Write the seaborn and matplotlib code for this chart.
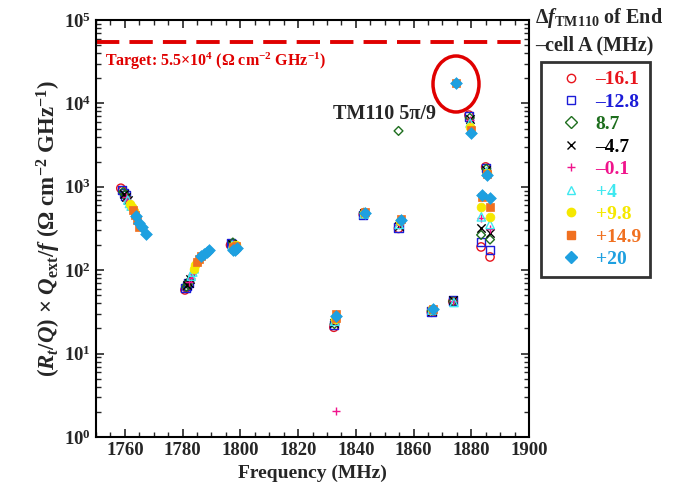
import numpy as np
import pandas as pd
import seaborn as sns
import matplotlib.pyplot as plt
from matplotlib.lines import Line2D
from matplotlib.patches import Ellipse
from matplotlib.ticker import MultipleLocator, LogLocator, NullFormatter

# legend labels (end-cell A frequency shift, MHz)
shifts = ['\u201316.1', '\u201312.8', '8.7', '\u20134.7', '\u20130.1', '+4', '+9.8', '+14.9', '+20']

# frequency (MHz) and (R/Q)*Qext/f values, one pair of lists per series
f_m161 = [1758.6, 1759.2, 1780.8, 1781.2, 1796.6, 1832.4, 1842.6, 1854.8, 1866.2, 1873.6, 1879.2, 1883.4, 1885.0, 1886.5]
v_m161 = [961, 898, 58, 62, 200, 20.7, 466, 317, 31.3, 42.3, 7240, 190, 1730, 144]

f_m128 = [1758.9, 1759.6, 1760.2, 1781.0, 1781.5, 1782.0, 1796.8, 1797.2, 1832.5, 1842.6, 1854.8, 1866.2, 1873.6, 1879.3, 1883.4, 1885.0, 1886.5]
v_m128 = [922, 844, 787, 61, 65, 70, 211, 204, 22, 458, 324, 32, 43.5, 6980, 218, 1690, 175]

f_p87 = [1759.4, 1760.0, 1760.6, 1781.3, 1781.8, 1782.3, 1797.4, 1832.6, 1842.8, 1854.8, 1866.3, 1873.7, 1879.5, 1883.4, 1885.2, 1886.5]
v_p87 = [867, 804, 743, 63, 68, 74, 215, 22.6, 489, 4677, 32.6, 42.3, 6710, 265, 1645, 233]

f_m47 = [1759.8, 1760.4, 1761.0, 1781.6, 1782.1, 1782.7, 1797.0, 1832.6, 1842.8, 1854.9, 1866.3, 1873.8, 1879.6, 1883.4, 1885.2, 1886.5]
v_m47 = [819, 757, 695, 66, 71, 78, 207, 23.2, 481, 338, 32.6, 43.5, 6530, 320, 1605, 283]

f_m01 = [1760.3, 1760.9, 1761.5, 1782.2, 1782.8, 1783.3, 1797.3, 1832.7, 1833.2, 1842.9, 1855.0, 1866.4, 1873.8, 1879.5, 1883.5, 1885.3, 1886.5]
v_m01 = [764, 703, 649, 72, 81, 89, 204, 23.9, 2.05, 477, 346, 33.3, 42.3, 6360, 421, 1565, 309]

f_p4 = [1761.0, 1761.6, 1762.2, 1783.0, 1783.5, 1784.0, 1797.2, 1832.7, 1842.9, 1855.0, 1866.4, 1874.0, 1879.6, 1883.5, 1885.3, 1886.5]
v_p4 = [695, 632, 587, 85, 95, 104, 200, 24.4, 473, 354, 33.3, 41, 5820, 436, 1525, 354]

f_p98 = [1761.8, 1762.4, 1763.0, 1783.8, 1784.4, 1785.0, 1797.5, 1798.5, 1832.9, 1843.0, 1855.3, 1866.5, 1879.7, 1883.5, 1885.4, 1886.6]
v_p98 = [617, 565, 511, 102, 115, 124, 197, 200, 26.3, 489, 391, 34, 5200, 565, 1483, 436]

f_p149 = [1762.8, 1763.5, 1764.3, 1765.0, 1785.0, 1785.7, 1786.4, 1797.6, 1798.6, 1797.8, 1833.0, 1833.1, 1843.1, 1855.5, 1866.6, 1874.7, 1879.8, 1883.6, 1885.5, 1886.6]
v_p149 = [526, 458, 398, 331, 126, 138, 149, 190, 193, 179, 29.5, 27, 496, 413, 34.5, 17600, 4750, 757, 1443, 580]

f_p20 = [1763.8, 1765.0, 1765.8, 1767.2, 1786.5, 1787.5, 1788.5, 1789.2, 1797.6, 1798.2, 1798.8, 1833.1, 1843.2, 1855.6, 1866.6, 1874.7, 1879.8, 1883.6, 1885.5, 1886.6]
v_p20 = [451, 368, 331, 272, 147, 158, 166, 173, 173, 177, 186, 28.2, 489, 405, 34.5, 17800, 4400, 796, 1403, 726]

freqs = [f_m161, f_m128, f_p87, f_m47, f_m01, f_p4, f_p98, f_p149, f_p20]
vals = [v_m161, v_m128, v_p87, v_m47, v_m01, v_p4, v_p98, v_p149, v_p20]

colors = ['#e8141c', '#1c1cd8', '#1e6e1e', '#000000', '#f0148c',
          '#3ee8f0', '#f5e800', '#f07020', '#1ea0e0']
markers = ['o', 's', 'D', 'x', '+', '^', 'o', 's', 'D']
filled = [False, False, False, None, None, False, True, True, True]
sizes = [36, 36, 20, 36, 40, 36, 40, 40, 36]

target = 5.5e4

sns.set_style('ticks')
plt.rcParams['font.family'] = ['Liberation Serif', 'DejaVu Serif']
plt.rcParams['font.weight'] = 'bold'
plt.rcParams['axes.labelweight'] = 'bold'
plt.rcParams['mathtext.fontset'] = 'custom'
plt.rcParams['mathtext.rm'] = 'Liberation Serif:bold'
plt.rcParams['mathtext.it'] = 'Liberation Serif:bold:italic'
plt.rcParams['mathtext.bf'] = 'Liberation Serif:bold'

fig = plt.figure(figsize=(6.89, 4.99), dpi=100)
ax = fig.add_axes([96 / 689, 62 / 499, 433 / 689, 417 / 499])

for i in range(len(shifts)):
    df = pd.DataFrame({'freq': freqs[i], 'val': vals[i]})
    c = colors[i]
    if filled[i] is None:
        sns.scatterplot(data=df, x='freq', y='val', marker=markers[i], s=sizes[i],
                        color=c, linewidth=1.0, ax=ax, legend=False, zorder=3 + i)
    elif filled[i]:
        sns.scatterplot(data=df, x='freq', y='val', marker=markers[i], s=sizes[i],
                        color=c, edgecolor=c, linewidth=0.5, ax=ax, legend=False, zorder=3 + i)
    else:
        sns.scatterplot(data=df, x='freq', y='val', marker=markers[i], s=sizes[i],
                        color=c, facecolor='none', edgecolor=c, linewidth=1.0,
                        ax=ax, legend=False, zorder=3 + i)

ax.axhline(target, color='#e00000', lw=2.8, ls=(0, (6, 2.6)), zorder=2)
ax.text(0.02, 0.9, r'Target: 5.5$\times$10$^4$ (Ω cm$^{-2}$ GHz$^{-1}$)',
        transform=ax.transAxes, color='#e00000', fontsize=11.5, va='center', ha='left')

ax.text(1832.1, 7400, 'TM110 5π/9', fontsize=14.5, va='center', ha='left')
ax.add_patch(Ellipse(((456 - 96) / 433, (437 - 84) / 417), 46 / 433, 56 / 417,
                     transform=ax.transAxes, fill=False, edgecolor='#e00000', lw=2.5))

ax.set_yscale('log')
ax.set_xlim(1750, 1900)
ax.set_ylim(1, 1e5)
ax.xaxis.set_major_locator(MultipleLocator(20))
ax.xaxis.set_minor_locator(MultipleLocator(5))
ax.yaxis.set_major_locator(LogLocator(base=10, numticks=10))
ax.yaxis.set_minor_locator(LogLocator(base=10, subs=np.arange(2, 10), numticks=20))
ax.yaxis.set_minor_formatter(NullFormatter())
ax.tick_params(which='both', direction='in', top=True, right=True, labelsize=13.5)
ax.tick_params(which='major', length=6, width=1.2)
ax.tick_params(which='minor', length=3.5, width=1)
for sp in ax.spines.values():
    sp.set_linewidth(1.5)
    sp.set_color('black')
ax.set_xticks([1760, 1780, 1800, 1820, 1840, 1860, 1880, 1900])

ax.set_xlabel('Frequency (MHz)', fontsize=14, labelpad=4)
ax.set_ylabel(r'$(R_t/Q)$ $\times$ $Q_{\mathrm{ext}}/f$ (Ω cm$^{-2}$ GHz$^{-1}$)', fontsize=16.5, labelpad=1)

handles = []
for i in range(len(shifts)):
    if filled[i] is None:
        h = Line2D([], [], ls='none', marker=markers[i], color=colors[i], markersize=6, mew=1)
    elif filled[i]:
        h = Line2D([], [], ls='none', marker=markers[i], color=colors[i], markersize=6)
    else:
        h = Line2D([], [], ls='none', marker=markers[i], markerfacecolor='none',
                   markeredgecolor=colors[i], markersize=6, mew=1)
    handles.append(h)
leg = ax.legend(handles, shifts, loc='upper left', bbox_to_anchor=(1.028, (437 - 62) / 417),
                fontsize=14, frameon=True, fancybox=False, edgecolor='black',
                borderpad=0.45, labelspacing=0.25, handletextpad=0.15, handlelength=2.2,
                borderaxespad=0)
leg.get_frame().set_linewidth(2)
for t, c in zip(leg.get_texts(), colors):
    t.set_color(c)

fig.text(535 / 689, 1 - 18 / 499, r'$\Delta f_{\mathrm{TM110}}$ of End', fontsize=14.5,
         va='center', ha='left')
fig.text(535 / 689, 1 - 45 / 499, '\u2013cell A (MHz)', fontsize=14.5, va='center', ha='left')

fig.savefig('out.png', dpi=100)
